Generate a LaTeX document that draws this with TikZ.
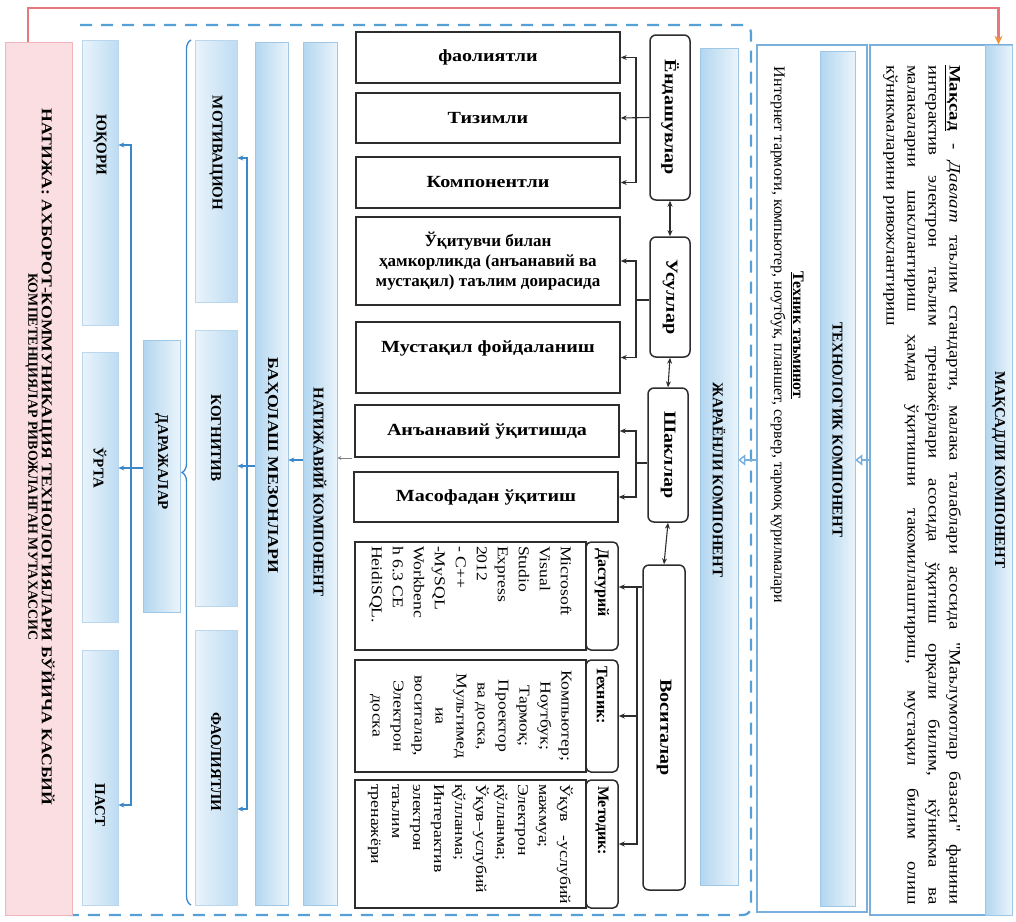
\documentclass[tikz,border=0pt]{standalone}
\usepackage{fontspec}
\usepackage{graphicx}
\setmainfont{Liberation Serif}
\newfontfamily\wide{Liberation Serif}[FakeStretch=1.18]
\usetikzlibrary{arrows.meta,decorations.pathreplacing}

\definecolor{stripblue}{RGB}{178,214,240}
\definecolor{stripwhite}{RGB}{234,244,251}
\definecolor{frameblue}{RGB}{120,175,220}
\definecolor{dashblue}{RGB}{85,160,215}
\definecolor{linkblue}{RGB}{60,135,200}
\definecolor{resultpink}{RGB}{243,180,188}
\definecolor{resultlight}{RGB}{250,222,226}
\definecolor{redlinec}{RGB}{232,120,125}
\definecolor{tiporange}{RGB}{235,150,60}
\definecolor{boxline}{RGB}{45,45,45}

% pink band that is darker at both long edges
\pgfdeclarehorizontalshading{pinkband}{100bp}{color(0bp)=(resultpink); color(28bp)=(resultlight);
  color(80bp)=(resultlight); color(100bp)=(resultpink)}

\newcommand{\rot}[1]{\rotatebox{-90}{#1}}

\begin{document}
\begin{tikzpicture}[x=1pt,y=-1pt,
  sharpbox/.style={draw=boxline, line width=1.5pt, fill=white, inner sep=0pt, align=center,
    font=\wide\fontsize{17}{20}\selectfont\bfseries},
  roundbox/.style={sharpbox, rounded corners=6pt},
  listbox/.style={draw=boxline, line width=1.5pt, fill=white, inner sep=0pt,
    font=\wide\fontsize{15}{21}\selectfont},
  headbox/.style={sharpbox, rounded corners=5pt, font=\fontsize{16}{19}\selectfont\bfseries},
  strip/.style={draw=frameblue!70, line width=0.6pt, left color=stripblue, right color=stripwhite, inner sep=0pt},
  lightbox/.style={draw=frameblue!50, line width=0.6pt, left color=stripwhite, right color=stripblue!85, inner sep=0pt},
  panel/.style={draw=frameblue, line width=1.2pt, fill=white, inner sep=0pt},
  title/.style={inner sep=0pt, font=\fontsize{15}{18}\selectfont\bfseries},
  arr/.style={draw=boxline, line width=1.1pt, -{Stealth[length=6pt,width=5pt]}},
  darr/.style={draw=boxline, line width=1.1pt, {Stealth[length=6pt,width=5pt]}-{Stealth[length=6pt,width=5pt]}},
  barr/.style={draw=linkblue, line width=1.2pt, -{Stealth[length=6pt,width=5pt]}},
  garr/.style={draw=gray, line width=1pt, -{Stealth[length=4pt,width=4pt]}},
  hollow/.style={draw=frameblue, line width=1.4pt, -{Triangle[open,length=7pt,width=11pt]}},
  redl/.style={draw=redlinec, line width=2.4pt, -{Stealth[length=9pt,width=8pt,color=tiporange]}}
]
\useasboundingbox (0,0) rectangle (1016,921);

% dashed frame around the process part
\draw[dashblue, line width=2.2pt, dash pattern=on 12pt off 9pt, rounded corners=8pt]
  (80,25) -- (751,25) -- (751,915) -- (62,915);

% ---------- goal component ----------
\node[panel, minimum width=142pt, minimum height=870pt] (maks) at (941,480) {};
\node[strip, minimum width=27pt, minimum height=870pt] (mhead) at (998.5,480) {};
\node[title] (mheadT) at (998.5,470) {\rot{МАҚСАДЛИ КОМПОНЕНТ}};
\node[inner sep=0pt] (mtext) at (922,485) {\rot{\parbox{840pt}{\wide\fontsize{16}{21}\selectfont
  \textbf{\underline{Мақсад}} - \textit{Давлат} таълим стандарти, малака талаблари асосида "Маълумотлар базаси" фанини\linebreak
  интерактив электрон таълим тренажёрлари асосида ўқитиш орқали билим, кўникма ва\linebreak
  малакаларни шакллантириш ҳамда ўқитишни такомиллаштириш, мустақил билим олиш\linebreak
  кўникмаларини ривожлантириш}}};

% ---------- technological component ----------
\node[panel, minimum width=110pt, minimum height=867pt] (tpanel) at (812,478.5) {};
\node[strip, minimum width=35pt, minimum height=855pt] (thead) at (837.5,478.5) {};
\node[title] (theadT) at (837.5,430) {\rot{ТЕХНОЛОГИК КОМПОНЕНТ}};
\node[inner sep=0pt, anchor=north] (ttext) at (787,55) {\rot{\parbox{560pt}{\centering\fontsize{16}{19}\selectfont
  \textbf{\underline{Техник таъминот}}\\
  Интернет тармоғи, компьютер, ноутбук, планшет, сервер, тармоқ қурилмалари}}};

% ---------- process component ----------
\node[strip, minimum width=38pt, minimum height=837pt] (jar) at (719,466.5) {};
\node[title] (jarT) at (719,480) {\rot{ЖАРАЁНЛИ КОМПОНЕНТ}};

\node[roundbox, minimum width=40pt, minimum height=165pt] (yond) at (670,117.5) {\rot{Ёндашувлар}};
\node[roundbox, minimum width=40pt, minimum height=120pt] (usul) at (670,297) {\rot{Усуллар}};
\node[roundbox, minimum width=40pt, minimum height=134pt] (shakl) at (668,455) {\rot{Шакллар}};
\node[roundbox, minimum width=42pt, minimum height=325pt] (vosit) at (664,727.5) {\rot{Воситалар}};

\node[sharpbox, minimum width=264pt, minimum height=51pt] (b1) at (488,57.5) {фаолиятли};
\node[sharpbox, minimum width=264pt, minimum height=50pt] (b2) at (488,118) {Тизимли};
\node[sharpbox, minimum width=264pt, minimum height=51pt] (b3) at (488,182.5) {Компонентли};
\node[sharpbox, minimum width=264pt, minimum height=88pt, font=\rmfamily\fontsize{17}{20}\selectfont\bfseries] (b4) at (488,261)
  {Ўқитувчи билан\\ҳамкорликда (анъанавий ва\\мустақил) таълим доирасида};
\node[sharpbox, minimum width=264pt, minimum height=71pt, text depth=22pt] (b5) at (488,357.5) {Мустақил фойдаланиш};
\node[sharpbox, minimum width=264pt, minimum height=52pt] (b6) at (487,431) {Анъанавий ўқитишда};
\node[sharpbox, minimum width=264pt, minimum height=50pt] (b7) at (486,497) {Масофадан ўқитиш};

\node[listbox, minimum width=231pt, minimum height=108pt] (dast) at (470.5,596)
  {\rot{\parbox{100pt}{\raggedright Microsoft\\Visual\\Studio\\Express\\2012\\- C++\\-MySQL\\Workbenc\\h 6.3 CE\\HeidiSQL.}}};
\node[headbox, minimum width=32pt, minimum height=108pt] (dasth) at (602,596) {\rot{\makebox[96pt][l]{Дастурий}}};
\node[listbox, minimum width=231pt, minimum height=112pt] (texn) at (470.5,716)
  {\rot{\parbox{106pt}{\centering Компьютер;\\Ноутбук;\\Тармоқ;\\Проектор\\ва доска,\\Мультимед\\иа\\воситалар,\\Электрон\\доска}}};
\node[headbox, minimum width=32pt, minimum height=112pt] (texnh) at (602,716) {\rot{\makebox[100pt][l]{Техник:}}};
\node[listbox, minimum width=231pt, minimum height=128pt] (met) at (470.5,844)
  {\rot{\parbox{120pt}{\raggedright \makebox[\linewidth][s]{Ўқув -услубий}\\мажмуа;\\Электрон\\қўлланма;\\Ўқув–услубий\\қўлланма;\\Интерактив\\электрон\\таълим\\тренажёри}}};
\node[headbox, minimum width=32pt, minimum height=128pt] (meth) at (602,844) {\rot{\makebox[116pt][l]{Методик:}}};

% links inside the process component
\draw[darr] (yond.south) -- (usul.north);
\draw[darr] (usul.south) -- (shakl.north);
\draw[darr] (shakl.south) -- (vosit.north);

\coordinate (jy) at (636,117.5);
\draw[arr] (yond.west) -- (b2.east);
\draw[arr] (jy) |- (b1.east);
\draw[arr] (jy) |- (b3.east);

\coordinate (ju) at (636,300);
\draw[boxline, line width=1.1pt] (usul.west |- ju) -- (ju);
\draw[arr] (ju) |- (b4.east);
\draw[arr] (ju) |- (b5.east);

\coordinate (js) at (636,463);
\draw[boxline, line width=1.1pt] (shakl.west |- js) -- (js);
\draw[arr] (js) |- (b6.east);
\draw[arr] (js) |- (b7.east);

\coordinate (jv) at (637,587);
\draw[arr] (vosit.west |- jv) -- (dasth.east |- jv);
\draw[arr] (jv) |- (texnh.east);
\draw[arr] (jv) |- (meth.east);

% ---------- result component ----------
\node[strip, minimum width=34pt, minimum height=863pt] (natij) at (320,473.5) {};
\node[title] (natijT) at (320,492) {\rot{НАТИЖАВИЙ КОМПОНЕНТ}};
\node[strip, minimum width=33pt, minimum height=863pt] (bahol) at (271.5,473.5) {};
\node[title, font=\wide\fontsize{15}{18}\selectfont\bfseries] (baholT) at (271.5,465) {\rot{БАҲОЛАШ МЕЗОНЛАРИ}};

\node[lightbox, minimum width=42pt, minimum height=262pt] (motiv) at (216,171) {};
\node[title] (motivT) at (216,153) {\rot{МОТИВАЦИОН}};
\node[lightbox, minimum width=42pt, minimum height=276pt] (kogn) at (216,468) {};
\node[title] (kognT) at (216,438) {\rot{КОГНИТИВ}};
\node[lightbox, minimum width=42pt, minimum height=275pt] (faol) at (216,767.5) {};
\node[title] (faolT) at (216,762) {\rot{ФАОЛИЯТЛИ}};

\draw[linkblue, line width=1.3pt, decorate, decoration={brace, amplitude=9pt}] (191,905) -- (191,40);

\node[strip, minimum width=37pt, minimum height=272pt] (daraj) at (161.5,476) {};
\node[title] (darajT) at (161.5,462) {\rot{ДАРАЖАЛАР}};

\node[lightbox, minimum width=36pt, minimum height=285pt] (yuq) at (100,182.5) {};
\node[title] (yuqT) at (100,145) {\rot{ЮҚОРИ}};
\node[lightbox, minimum width=36pt, minimum height=270pt] (urta) at (100,487) {};
\node[title] (urtaT) at (100,468) {\rot{ЎРТА}};
\node[lightbox, minimum width=36pt, minimum height=255pt] (past) at (100,777.5) {};
\node[title] (pastT) at (100,805) {\rot{ПАСТ}};

\node[draw=resultpink, line width=0.6pt, shading=pinkband, inner sep=0pt,
  minimum width=67pt, minimum height=873pt] (res) at (38.5,478.5) {};
\node[inner sep=0pt] (resT) at (40,457) {\rot{\parbox{760pt}{\centering\bfseries
  {\wide\fontsize{15}{20}\selectfont НАТИЖА: АХБОРОТ-КОММУНИКАЦИЯ ТЕХНОЛОГИЯЛАРИ БЎЙИЧА КАСБИЙ}\\
  {\fontsize{14}{20}\selectfont\bfseries КОМПЕТЕНЦИЯЛАР РИВОЖЛАНГАН МУТАХАССИС}}}};

% links of the result part
\coordinate (hy) at (0,460);
\coordinate (gs) at (352,458);
\draw[garr] (gs) -- (natij.east |- gs);
\draw[barr] (natij.west |- hy) -- (bahol.east |- hy);

\coordinate (sp) at (247,466);
\coordinate (m1) at (0,158);
\coordinate (m3) at (0,809);
\draw[barr] (bahol.west |- sp) -- (kogn.east |- sp);
\draw[barr] (sp) |- (motiv.east |- m1);
\draw[barr] (sp) |- (faol.east |- m3);

\coordinate (dp) at (131,468);
\draw[barr] (daraj.west |- dp) -- (urta.east |- dp);
\draw[barr] (dp) |- (yuq.east |- yuqT);
\draw[barr] (dp) |- (past.east |- pastT);

% hollow arrows between the components
\draw[hollow] (maks.west |- hy) -- (thead.east |- hy);
\draw[hollow] (tpanel.west |- hy) -- (jar.east |- hy);

% red feedback line from the result to the goal
\coordinate (rl) at (28,8);
\draw[redl] (rl |- res.north) -- (rl) -| (mhead.north);
\end{tikzpicture}
\end{document}
